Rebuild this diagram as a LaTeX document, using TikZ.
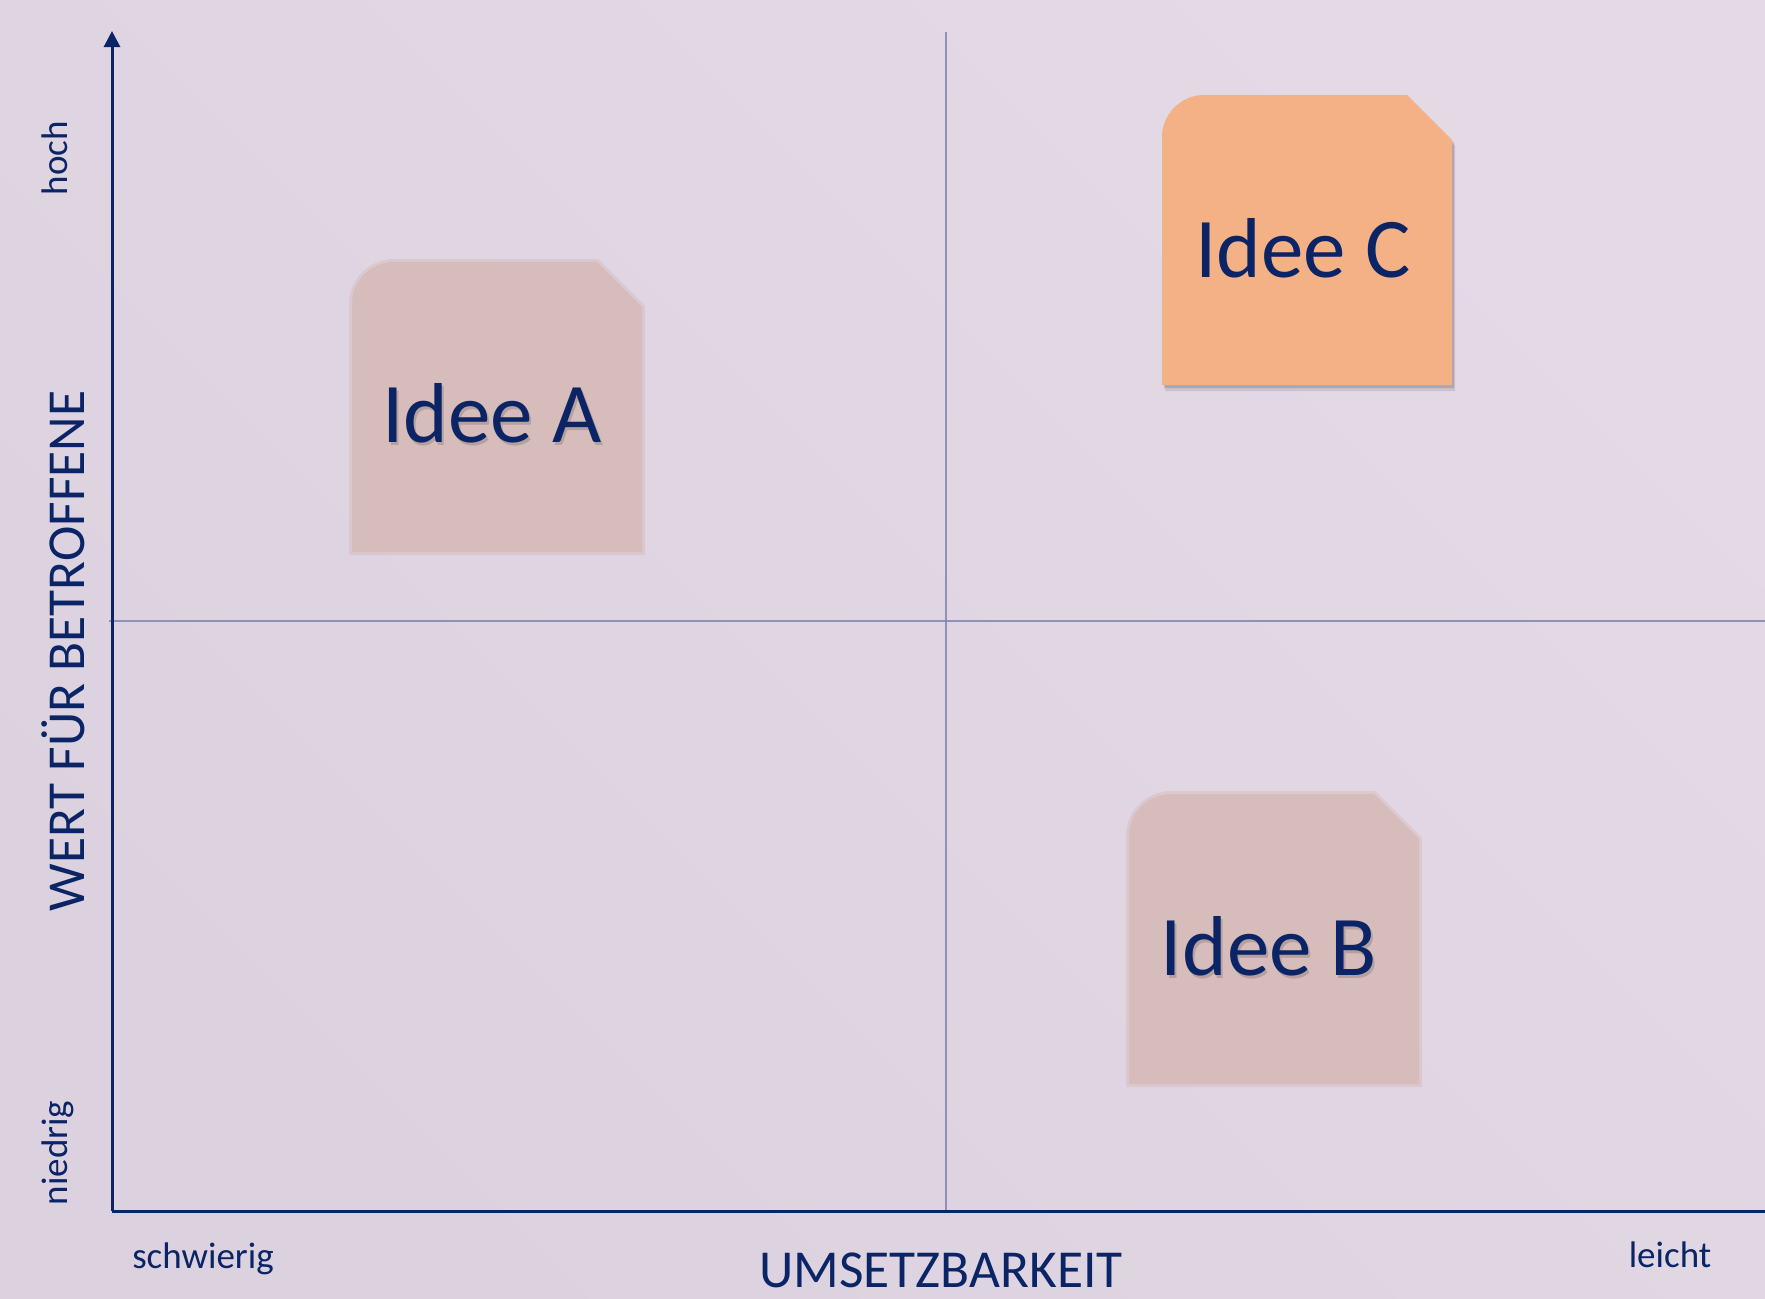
\documentclass[tikz,border=0pt]{standalone}
\usepackage{fontspec}
\setmainfont{Carlito}
\usetikzlibrary{arrows.meta}
\definecolor{bgA}{HTML}{E4DAE6}
\definecolor{bgB}{HTML}{DCD2DF}
\definecolor{navy}{HTML}{0B2466}
\definecolor{gridc}{HTML}{8088AE}
\definecolor{boxpink}{HTML}{D6BCBB}
\definecolor{boxorange}{HTML}{F3B185}
\newcommand{\ideeshape}[3]{%
  \path[#3] (#1,#2+290) -- (#1,#2+42) .. controls (#1,#2+19) and (#1+19,#2) .. (#1+42,#2)
    -- (#1+245,#2) -- (#1+290,#2+45) -- (#1+290,#2+290) -- cycle;}
\tikzset{
  x=0.5pt, y=-0.5pt,
  axis/.style={draw=navy, line width=1.5pt},
  gridline/.style={draw=gridc, line width=1.3pt, opacity=0.85},
  ideetext/.style={text=navy, font=\fontsize{42.5}{50}\selectfont, anchor=base, inner sep=0pt},
  ideeshadow/.style={text=black, opacity=0.15, font=\fontsize{42.5}{50}\selectfont, anchor=base, inner sep=0pt},
  smalllbl/.style={text=navy, font=\fontsize{18.5}{22}\selectfont, anchor=base, inner sep=0pt},
  biglbl/.style={text=navy, font=\fontsize{26.7}{31}\selectfont, anchor=base, inner sep=0pt},
}
\begin{document}
\begin{tikzpicture}
\useasboundingbox (0,0) rectangle (1765,1298);
\shade[left color=bgA, right color=bgB, shading angle=-45] (0,0) rectangle (1765,1298);
% grid lines
\coordinate (vtop) at (946,32);
\coordinate (vbot) at (946,1211);
\coordinate (hleft) at (109,621);
\coordinate (hright) at (1765,621);
\draw[gridline] (vtop) -- (vbot);
\draw[gridline] (hleft) -- (hright);
% axes
\coordinate (origin) at (112,1211);
\coordinate (ytop) at (112,31);
\coordinate (xend) at (1765,1211);
\draw[axis, -{Triangle[width=8pt,length=8pt]}] (origin) -- (ytop);
\draw[axis] (origin) -- (xend);
% boxes A and B (soft edges)
\ideeshape{352}{262}{draw=boxpink, line width=3pt, opacity=0.5}
\ideeshape{352}{262}{fill=boxpink}
\ideeshape{1129}{794}{draw=boxpink, line width=3pt, opacity=0.5}
\ideeshape{1129}{794}{fill=boxpink}
% box C with shadow
\ideeshape{1165}{101}{fill=black, opacity=0.10}
\ideeshape{1164}{98}{fill=black, opacity=0.14}
\ideeshape{1162}{95}{fill=boxorange}
% texts
\node[ideeshadow] (sA) at (494,445) {Idee A};
\node[ideetext] (tA) at (492,442) {Idee A};
\node[ideeshadow] (sB) at (1271,978) {Idee B};
\node[ideetext] (tB) at (1269,975) {Idee B};
\node[ideetext] (tC) at (1303,277) {Idee C};
% axis labels
\node[smalllbl, rotate=90] (hoch) at (67,158) {hoch};
\node[smalllbl, rotate=90] (niedrig) at (67,1153) {niedrig};
\node[biglbl, rotate=90] (wert) at (84,651) {WERT FÜR BETROFFENE};
\node[smalllbl] (schwierig) at (203,1268) {schwierig};
\node[smalllbl] (leicht) at (1670,1267) {leicht};
\node[biglbl] (umsetz) at (941,1287) {UMSETZBARKEIT};
\end{tikzpicture}
\end{document}
